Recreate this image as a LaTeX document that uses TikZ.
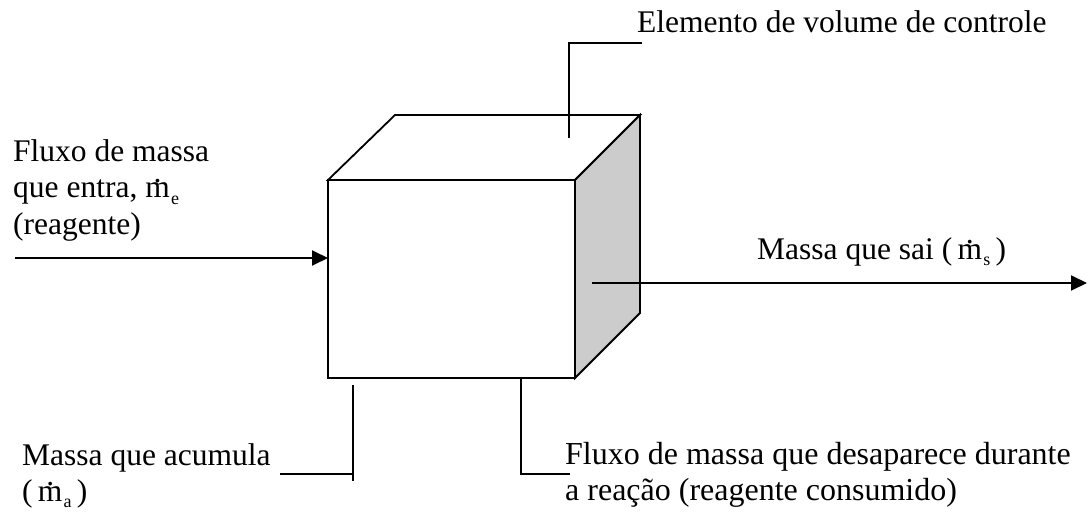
\documentclass[tikz,border=0pt]{standalone}
\usepackage{fontspec}
\setmainfont{Liberation Serif}
\usetikzlibrary{arrows.meta}
\definecolor{sidegray}{RGB}{204,204,204}
% m with a dot above (mass flow rate) and a small lowered index
\newcommand{\mdot}{\ooalign{m\cr\hidewidth\raisebox{0.5em}{.}\hidewidth\cr}}
\newcommand{\msub}[1]{\kern0.04em\raisebox{-0.2em}{\fontsize{18}{18}\selectfont #1}}

\begin{document}
\begin{tikzpicture}[x=1pt,y=-1pt,
  lbl/.style={anchor=base west, inner sep=0pt, font=\fontsize{31.5}{36}\selectfont},
  edge/.style={line width=1.8pt, line join=miter},
  flow/.style={line width=1.9pt, -{Triangle[length=16pt,width=15pt]}},
  lead/.style={line width=1.6pt}]
\useasboundingbox (0,0) rectangle (1087,513);

% corners of the control volume
\coordinate (A) at (328,180);
\coordinate (B) at (575,180);
\coordinate (C) at (575,378);
\coordinate (D) at (328,378);
\coordinate (E) at (395,115);
\coordinate (F) at (640,115);
\coordinate (G) at (640,313);

% top face, shaded side face, front face
\filldraw[edge, fill=white] (A) -- (E) -- (F) -- (B) -- cycle;
\filldraw[edge, fill=sidegray] (B) -- (F) -- (G) -- (C) -- cycle;
\draw[edge] (A) rectangle (C);

% labels
\node[lbl] (tin1) at (13,162) {Fluxo de massa};
\node[lbl] (tin2) at (13,198) {que entra,\ \mdot\msub{e}};
\node[lbl] (tin3) at (13,234) {(reagente)};
\node[lbl] (tcv) at (637,33) {Elemento de volume de controle};
\node[lbl] (tout) at (757,259) {Massa que sai (\,\mdot\msub{s}\,)};
\node[lbl] (tacc1) at (22,465) {Massa que acumula};
\node[lbl] (tacc2) at (22,501) {(\,\mdot\msub{a}\,)};
\node[lbl, font=\fontsize{32}{36}\selectfont] (tcons1) at (565,464) {Fluxo de massa que desaparece durante};
\node[lbl, font=\fontsize{32}{36}\selectfont] (tcons2) at (565,500) {a reação (reagente consumido)};

% mass flow in and out
\coordinate (inS) at (15,258);
\coordinate (inE) at (328,258);
\coordinate (outS) at (592,283);
\coordinate (outE) at (1087,283);
\draw[flow] (inS) -- (inE);
\draw[flow] (outS) -- (outE);

% leader lines
\coordinate (cvA) at (569,138);
\coordinate (cvB) at (569,43);
\coordinate (cvC) at (642,43);
\draw[lead] (cvA) -- (cvB) -- (cvC);

\coordinate (acA) at (353,385);
\coordinate (acB) at (353,481);
\coordinate (acC) at (280,474);
\coordinate (acD) at (353,474);
\draw[lead] (acA) -- (acB);
\draw[lead] (acC) -- (acD);

\coordinate (coA) at (521,378);
\coordinate (coB) at (521,474);
\coordinate (coC) at (570,474);
\draw[lead] (coA) -- (coB) -- (coC);
\end{tikzpicture}
\end{document}
